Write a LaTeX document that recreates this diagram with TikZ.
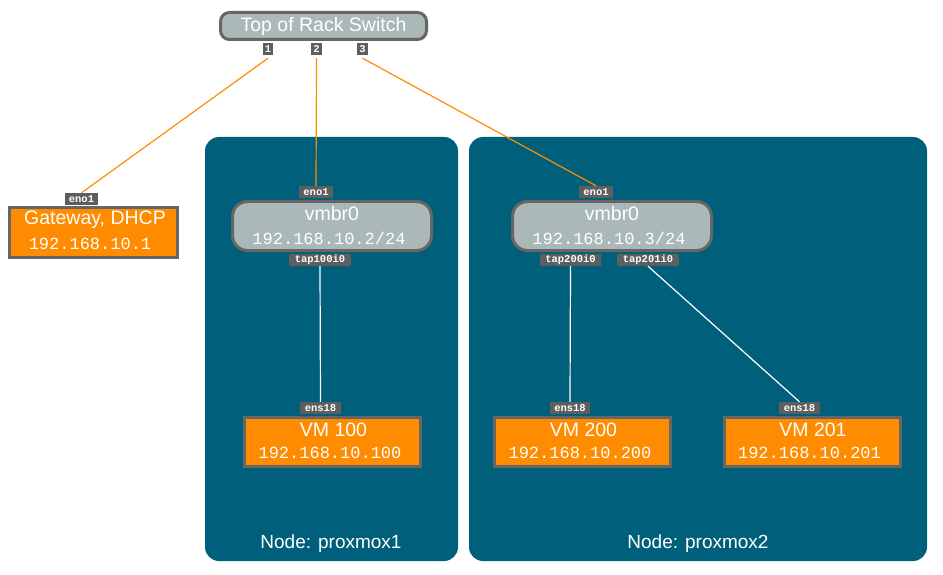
\documentclass[tikz,border=0pt]{standalone}
\usepackage{fontspec}
\setmainfont{Liberation Sans}
\setmonofont{Liberation Mono}
\definecolor{teal}{HTML}{005F7B}
\definecolor{orng}{HTML}{FF8C00}
\definecolor{bord}{HTML}{666666}
\definecolor{lblg}{HTML}{5E5E5E}
\definecolor{swg}{HTML}{AAB8B7}
\begin{document}
\begin{tikzpicture}[x=1pt,y=-1pt,
  cluster/.style={fill=teal,rounded corners=14pt,draw=none},
  clabel/.style={text=white,font=\fontsize{19}{20}\selectfont},
  port/.style={fill=lblg,text=white,inner sep=0pt,minimum height=12pt,font=\ttfamily\bfseries\fontsize{10.5}{10}\selectfont},
  vmbox/.style={fill=orng,draw=bord,line width=3pt,inner sep=0pt,minimum width=176pt,minimum height=49pt},
  brbox/.style={fill=swg,draw=bord,line width=3pt,inner sep=0pt,rounded corners=15pt,minimum width=199pt,minimum height=49pt},
  ttl/.style={text=white,font=\fontsize{19.5}{20}\selectfont},
  ip/.style={text=white,font=\ttfamily\fontsize{17}{18}\selectfont},
  olink/.style={draw=orng,line width=1.2pt},
  wlink/.style={draw=white,line width=1.2pt}
]
\useasboundingbox (0,0) rectangle (943,575);
% clusters
\node[cluster,minimum width=253pt,minimum height=424pt,inner sep=0pt] (c1) at (331.5,349) {};
\node[cluster,minimum width=458pt,minimum height=424pt,inner sep=0pt] (c2) at (698,349) {};
\node[clabel] (c1l) at (331,544) {Node: proxmox1};
\node[clabel] (c2l) at (698,544) {Node: proxmox2};
% switch
\node[fill=swg,draw=bord,line width=3pt,rounded corners=9pt,inner sep=0pt,minimum width=206pt,minimum height=27pt,text=white,font=\fontsize{19.5}{20}\selectfont] (sw) at (323.5,26) {Top of Rack Switch};
\node[port,minimum width=10pt] (p1) at (268,49) {1};
\node[port,minimum width=11pt] (p2) at (316.5,49) {2};
\node[port,minimum width=11pt] (p3) at (362.5,49) {3};
% gateway
\node[fill=orng,draw=bord,line width=3pt,inner sep=0pt,minimum width=168pt,minimum height=50pt] (gw) at (93.5,232.5) {};
\node[ttl] (gwt) at (95,220) {Gateway, DHCP};
\node[ip] (gwi) at (90,244) {192.168.10.1};
\node[port,minimum width=33pt] (gweno) at (81.5,199) {eno1};
% bridge 1
\node[brbox] (br1) at (332,226) {};
\node[ttl] (br1t) at (332,214) {vmbr0};
\node[ip] (br1i) at (329,238) {192.168.10.2/24};
\node[port,minimum width=34pt] (e1) at (316,192) {eno1};
\node[port,minimum width=62pt] (t100) at (320,260) {tap100i0};
% bridge 2
\node[brbox] (br2) at (612,226) {};
\node[ttl] (br2t) at (612,214) {vmbr0};
\node[ip] (br2i) at (609,238) {192.168.10.3/24};
\node[port,minimum width=34pt] (e2) at (596,192) {eno1};
\node[port,minimum width=61pt] (t200) at (570.5,260) {tap200i0};
\node[port,minimum width=62pt] (t201) at (648,260) {tap201i0};
% VMs
\node[vmbox] (vm100) at (332.5,442) {};
\node[ttl] (vm100t) at (333.5,430) {VM 100};
\node[ip] (vm100i) at (330,453) {192.168.10.100};
\node[port,minimum width=41pt] (s100) at (320.5,408) {ens18};
\node[vmbox] (vm200) at (582.5,442) {};
\node[ttl] (vm200t) at (583.5,430) {VM 200};
\node[ip] (vm200i) at (580,453) {192.168.10.200};
\node[port,minimum width=40pt] (s200) at (570,408) {ens18};
\node[vmbox] (vm201) at (812,442) {};
\node[ttl] (vm201t) at (813,430) {VM 201};
\node[ip] (vm201i) at (809.5,453) {192.168.10.201};
\node[port,minimum width=41pt] (s201) at (799.5,408) {ens18};
% links
\draw[olink] ([yshift=-3pt]p1.south) -- (gweno.north);
\draw[olink] ([yshift=-3pt]p2.south) -- (e1.north);
\draw[olink] ([yshift=-3pt]p3.south) -- (e2.north);
\draw[wlink] (t100.south) -- (s100.north);
\draw[wlink] (t200.south) -- (s200.north);
\draw[wlink] (t201.south) -- (s201.north);
\end{tikzpicture}
\end{document}
